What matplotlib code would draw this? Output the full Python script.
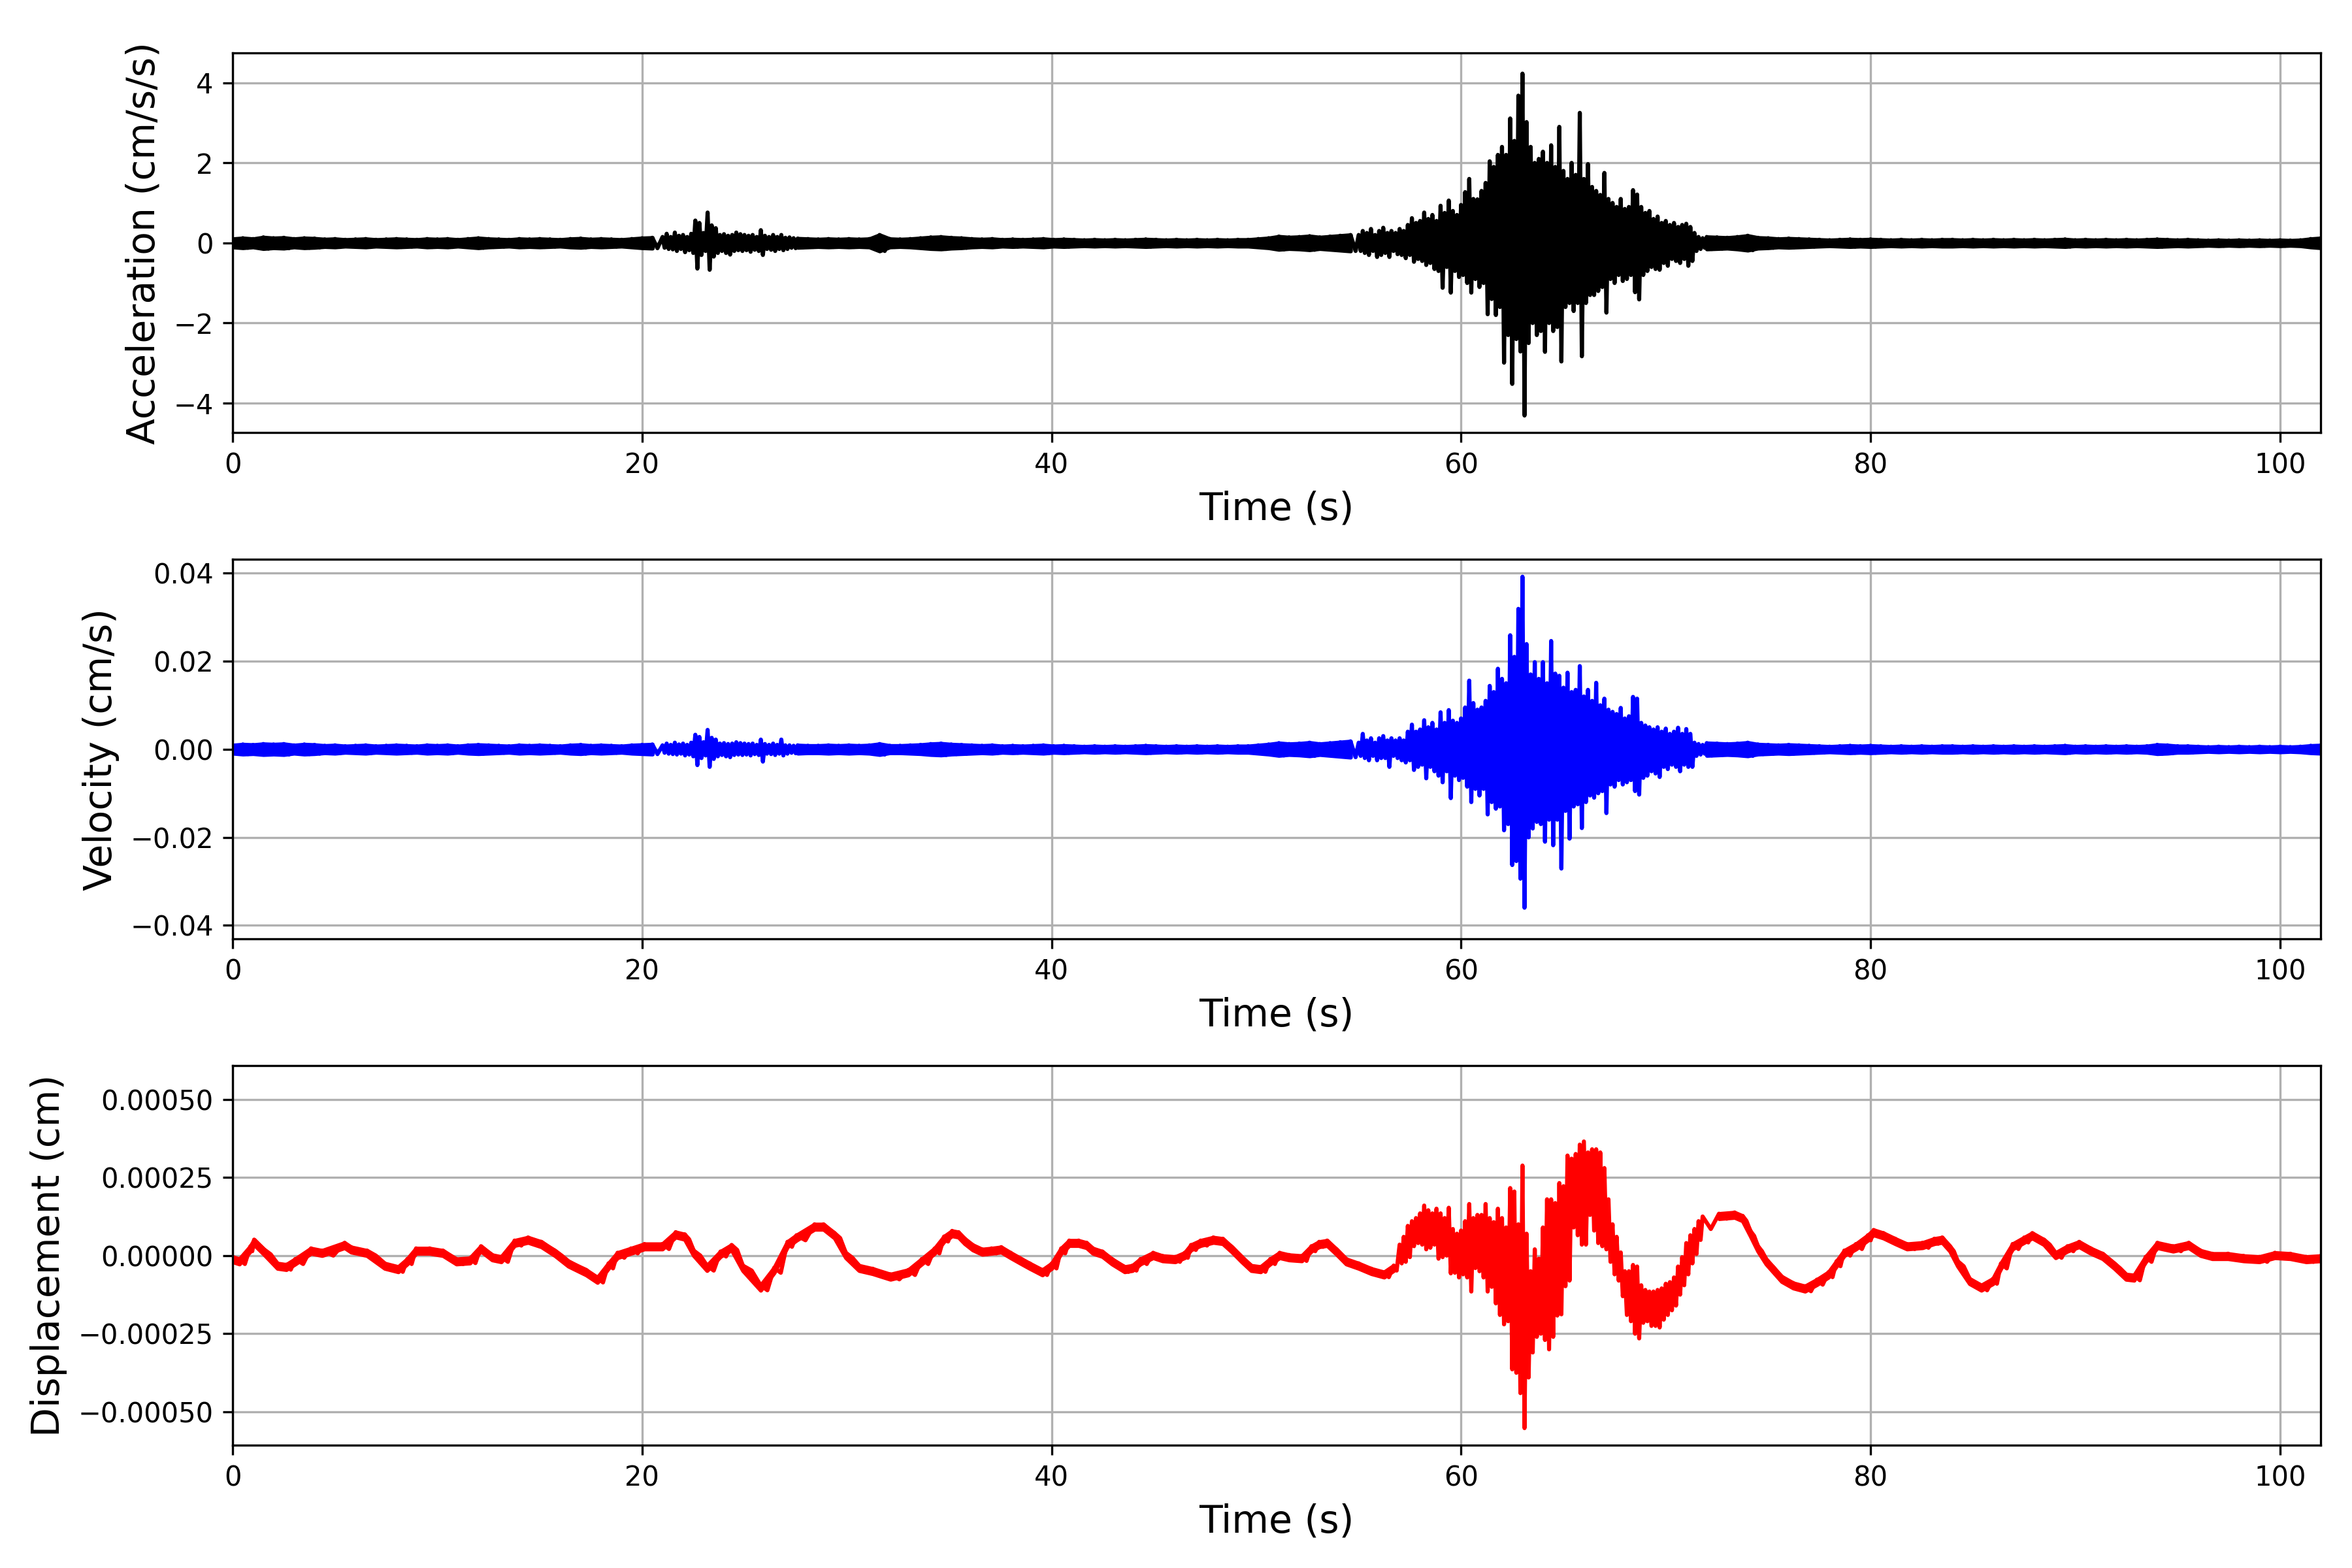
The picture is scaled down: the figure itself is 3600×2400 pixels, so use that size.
import numpy as np
import matplotlib
matplotlib.use("Agg")
import matplotlib.pyplot as plt

# ---------------- data ----------------
# Acceleration (cm/s/s): quiet segments are half-widths of the trace band,
# active segments are local positive / negative peaks per knot.
acc_q1_start, acc_q1_dt = 0.0, 0.5
acc_quiet1 = [0.1, 0.12, 0.1, 0.14, 0.12, 0.13, 0.1, 0.12, 0.11, 0.09,
              0.1, 0.08, 0.09, 0.1, 0.08, 0.09, 0.1, 0.09, 0.08, 0.1,
              0.09, 0.1, 0.08, 0.1, 0.12, 0.1, 0.09, 0.08, 0.1, 0.09,
              0.1, 0.09, 0.08, 0.1, 0.11, 0.09, 0.1, 0.09, 0.08, 0.1,
              0.12, 0.13]
acc_b_start, acc_b_dt = 21.0, 0.2
acc_burst_hi = [0.15, 0.23, 0.15, 0.26, 0.18, 0.2, 0.15, 0.23, 0.56, 0.5,
                0.25, 0.76, 0.44, 0.37, 0.2, 0.22, 0.18, 0.2, 0.26, 0.22,
                0.2, 0.18, 0.2, 0.15, 0.32, 0.18, 0.15, 0.2, 0.15, 0.2,
                0.13, 0.14, 0.12]
acc_burst_lo = [-0.12, -0.15, -0.16, -0.2, -0.15, -0.23, -0.18, -0.25, -0.64, -0.3,
                -0.2, -0.67, -0.34, -0.25, -0.2, -0.25, -0.29, -0.2, -0.18, -0.2,
                -0.18, -0.22, -0.17, -0.2, -0.3, -0.15, -0.17, -0.2, -0.15, -0.18,
                -0.15, -0.12, -0.13]
acc_q2_start, acc_q2_dt = 27.6, 0.5
acc_quiet2 = [0.11, 0.1, 0.09, 0.1, 0.09, 0.1, 0.09, 0.1, 0.2, 0.1,
              0.09, 0.1, 0.12, 0.14, 0.15, 0.13, 0.12, 0.1, 0.09, 0.1,
              0.08, 0.09, 0.08, 0.09, 0.1, 0.08, 0.09, 0.08, 0.07, 0.08,
              0.07, 0.08, 0.07, 0.08, 0.09, 0.08, 0.07, 0.08, 0.07, 0.08,
              0.07, 0.08, 0.07, 0.08, 0.08, 0.1, 0.12, 0.16, 0.14, 0.15,
              0.17, 0.14, 0.16, 0.18, 0.2]
acc_m_start, acc_m_dt = 55.0, 0.2
acc_main_hi = [0.2, 0.3, 0.25, 0.35, 0.2, 0.3, 0.38, 0.25, 0.3, 0.25,
               0.35, 0.3, 0.45, 0.62, 0.5, 0.55, 0.76, 0.6, 0.7, 0.55,
               0.93, 0.75, 1.06, 0.8, 0.7, 0.95, 1.27, 1.6, 1.1, 1.09,
               1.3, 1.5, 2.04, 1.9, 2.2, 2.4, 2.2, 3.11, 2.55, 3.68,
               4.23, 3.02, 2.4, 2.0, 2.1, 2.28, 2.0, 2.44, 1.9, 2.9,
               1.8, 1.6, 2.0, 1.7, 3.25, 1.6, 1.97, 1.4, 1.3, 1.2,
               1.75, 1.1, 1.0, 0.9, 1.1, 0.85, 0.9, 1.32, 1.21, 0.9,
               0.75, 0.8, 0.6, 0.66, 0.5, 0.55, 0.45, 0.5, 0.4, 0.45,
               0.48, 0.4, 0.25, 0.15, 0.12]
acc_main_lo = [-0.2, -0.25, -0.3, -0.2, -0.35, -0.3, -0.25, -0.35, -0.2, -0.28,
               -0.3, -0.38, -0.3, -0.47, -0.4, -0.45, -0.55, -0.5, -0.65, -0.7,
               -1.12, -0.6, -1.24, -0.7, -0.85, -0.8, -1.0, -1.24, -0.9, -1.1,
               -1.0, -1.78, -1.4, -1.8, -1.6, -2.99, -2.3, -3.52, -2.4, -2.71,
               -4.31, -2.5, -2.0, -2.3, -2.2, -2.72, -2.0, -2.2, -2.1, -2.96,
               -1.6, -1.5, -1.7, -1.5, -2.83, -1.5, -1.3, -1.3, -1.2, -1.1,
               -1.74, -0.9, -1.0, -0.8, -0.95, -0.9, -0.8, -1.23, -1.41, -0.8,
               -0.7, -0.6, -0.65, -0.67, -0.5, -0.57, -0.4, -0.45, -0.5, -0.4,
               -0.57, -0.45, -0.2, -0.15, -0.12]
acc_q3_start, acc_q3_dt = 72.0, 0.5
acc_quiet3 = [0.15, 0.14, 0.13, 0.15, 0.18, 0.13, 0.12, 0.1, 0.11, 0.1,
              0.09, 0.08, 0.07, 0.08, 0.09, 0.08, 0.09, 0.08, 0.07, 0.08,
              0.07, 0.08, 0.07, 0.08, 0.08, 0.07, 0.08, 0.07, 0.08, 0.07,
              0.08, 0.07, 0.08, 0.07, 0.08, 0.09, 0.07, 0.08, 0.07, 0.08,
              0.07, 0.08, 0.07, 0.08, 0.09, 0.08, 0.07, 0.08, 0.07, 0.06,
              0.07, 0.06, 0.07, 0.06, 0.07, 0.06, 0.07, 0.06, 0.07, 0.1,
              0.12]

# Velocity (cm/s)
vel_quiet1 = [0.0009, 0.0011, 0.001, 0.0012, 0.0011, 0.0012, 0.0009, 0.0011, 0.001, 0.0008,
              0.0009, 0.0007, 0.0008, 0.0009, 0.0007, 0.0008, 0.0009, 0.0008, 0.0007, 0.0009,
              0.0008, 0.0009, 0.0007, 0.0009, 0.001, 0.0009, 0.0008, 0.0007, 0.0009, 0.0008,
              0.0009, 0.0008, 0.0007, 0.0009, 0.001, 0.0008, 0.0009, 0.0008, 0.0007, 0.0009,
              0.001, 0.0011]
vel_burst_hi = [0.0009, 0.0013, 0.001, 0.0015, 0.0011, 0.0013, 0.001, 0.0015, 0.0033, 0.0028,
                0.0016, 0.0044, 0.0026, 0.0022, 0.0013, 0.0014, 0.0012, 0.0013, 0.0016, 0.0014,
                0.0013, 0.0012, 0.0013, 0.001, 0.0022, 0.0012, 0.001, 0.0013, 0.001, 0.0022,
                0.0009, 0.0009, 0.0008]
vel_burst_lo = [-0.0008, -0.001, -0.0011, -0.0012, -0.001, -0.0014, -0.0012, -0.0016, -0.0036, -0.002,
                -0.0014, -0.004, -0.0022, -0.0016, -0.0013, -0.0016, -0.0018, -0.0013, -0.0012, -0.0013,
                -0.0012, -0.0014, -0.0011, -0.0013, -0.0028, -0.001, -0.0011, -0.0013, -0.001, -0.0014,
                -0.001, -0.0008, -0.0009]
vel_quiet2 = [0.0009, 0.0008, 0.0008, 0.0009, 0.0008, 0.0009, 0.0008, 0.0009, 0.0012, 0.0008,
              0.0008, 0.0009, 0.001, 0.0012, 0.0013, 0.0011, 0.001, 0.0009, 0.0008, 0.0009,
              0.0007, 0.0008, 0.0007, 0.0008, 0.0009, 0.0007, 0.0008, 0.0007, 0.0006, 0.0007,
              0.0006, 0.0007, 0.0006, 0.0007, 0.0008, 0.0007, 0.0006, 0.0007, 0.0006, 0.0007,
              0.0006, 0.0007, 0.0006, 0.0007, 0.0007, 0.0009, 0.0011, 0.0014, 0.0012, 0.0013,
              0.0015, 0.0012, 0.0014, 0.0016, 0.0018]
vel_main_hi = [0.0015, 0.0035, 0.002, 0.0025, 0.0015, 0.0025, 0.003, 0.002, 0.0025, 0.002,
               0.0025, 0.002, 0.004, 0.0056, 0.004, 0.0045, 0.0066, 0.005, 0.006, 0.0045,
               0.0084, 0.006, 0.0089, 0.0065, 0.006, 0.007, 0.0095, 0.0156, 0.0105, 0.009,
               0.0095, 0.011, 0.0144, 0.013, 0.0183, 0.016, 0.015, 0.0259, 0.021, 0.0319,
               0.0392, 0.0239, 0.017, 0.0198, 0.016, 0.0198, 0.015, 0.0246, 0.0172, 0.0167,
               0.014, 0.0174, 0.013, 0.0135, 0.0189, 0.012, 0.0135, 0.011, 0.0151, 0.01,
               0.0115, 0.009, 0.0085, 0.008, 0.0094, 0.007, 0.0075, 0.0119, 0.0115, 0.006,
               0.0054, 0.005, 0.0045, 0.005, 0.004, 0.0047, 0.0035, 0.004, 0.0049, 0.0035,
               0.0046, 0.0035, 0.0015, 0.0012, 0.001]
vel_main_lo = [-0.0015, -0.002, -0.0025, -0.0015, -0.0025, -0.002, -0.002, -0.004, -0.0015, -0.002,
               -0.0025, -0.003, -0.0025, -0.0047, -0.004, -0.0035, -0.0066, -0.004, -0.005, -0.006,
               -0.0075, -0.005, -0.0111, -0.006, -0.007, -0.0065, -0.0085, -0.012, -0.009, -0.0105,
               -0.009, -0.0148, -0.012, -0.0135, -0.013, -0.0184, -0.017, -0.0263, -0.0254, -0.0294,
               -0.036, -0.02, -0.018, -0.0165, -0.017, -0.021, -0.016, -0.0218, -0.016, -0.0271,
               -0.014, -0.0203, -0.013, -0.0125, -0.0179, -0.012, -0.0105, -0.011, -0.01, -0.0095,
               -0.0145, -0.008, -0.0085, -0.007, -0.008, -0.0075, -0.007, -0.0095, -0.0103, -0.0065,
               -0.006, -0.005, -0.0055, -0.0063, -0.004, -0.0045, -0.0035, -0.004, -0.005, -0.0035,
               -0.004, -0.004, -0.0015, -0.0012, -0.001]
vel_quiet3 = [0.0014, 0.0013, 0.0012, 0.0013, 0.0015, 0.0011, 0.001, 0.0009, 0.001, 0.0009,
              0.0008, 0.0007, 0.0006, 0.0007, 0.0008, 0.0007, 0.0008, 0.0007, 0.0006, 0.0007,
              0.0006, 0.0007, 0.0006, 0.0007, 0.0007, 0.0006, 0.0007, 0.0006, 0.0007, 0.0006,
              0.0007, 0.0006, 0.0007, 0.0006, 0.0007, 0.0008, 0.0006, 0.0007, 0.0006, 0.0007,
              0.0006, 0.0007, 0.0006, 0.0007, 0.001, 0.0009, 0.0007, 0.0007, 0.0006, 0.0005,
              0.0006, 0.0005, 0.0006, 0.0005, 0.0006, 0.0005, 0.0006, 0.0005, 0.0006, 0.0008,
              0.0009]

# Displacement (cm): slow wave (centre line) with small jitter
disp_quiet_t = [0.0, 0.33, 0.87, 1.05, 1.53, 2.19, 2.62, 3.06, 3.83, 4.37,
                5.47, 5.79, 6.56, 7.43, 8.09, 8.53, 8.96, 9.62, 10.27, 10.93,
                11.59, 12.13, 12.68, 13.12, 13.77, 14.43, 15.08, 15.74, 16.4, 17.27,
                17.82, 18.36, 18.8, 19.46, 20.11, 20.99, 21.64, 22.08, 22.52, 23.17,
                23.83, 24.37, 24.92, 25.79, 26.45, 27.1, 27.54, 28.42, 28.86, 29.4,
                29.95, 30.6, 31.26, 32.13, 33.0, 33.66, 34.29, 34.75, 35.14, 35.45,
                35.76, 36.15, 36.61, 37.07, 37.54, 38.0, 38.46, 38.93, 39.55, 40.01,
                40.47, 40.86, 41.32, 41.71, 42.02, 42.48, 42.95, 43.57, 43.95, 44.34,
                44.96, 45.42, 46.04, 46.5, 46.81, 47.28, 47.9, 48.36, 48.82, 49.29,
                49.75, 50.21, 50.68, 51.14, 51.6, 52.22, 52.69, 53.07, 53.46, 53.92,
                54.39, 55.0, 55.62, 56.24, 56.71,
                72.6, 73.36, 73.75, 74.13, 74.5, 74.9, 75.28, 75.66, 76.23, 76.8,
                77.38, 77.95, 78.34, 78.72, 79.29, 79.87, 80.15, 80.63, 81.2, 81.78,
                82.54, 83.12, 83.5, 83.88, 84.26, 84.84, 85.41, 85.98, 86.37, 86.94,
                87.51, 87.9, 88.47, 89.04, 89.62, 90.19, 90.76, 91.34, 91.91, 92.48,
                92.87, 93.44, 94.01, 94.78, 95.54, 96.12, 96.69, 97.46, 98.22, 98.99,
                99.75, 100.5, 101.28, 101.99]
disp_quiet_mid = [-1.2e-5, -1.9e-5, 2.2e-5, 4.3e-5, 1.2e-5, -3.3e-5, -3.7e-5, -1.9e-5, 1.5e-5, 8e-6,
                  3.3e-5, 1.9e-5, 8e-6, -3.3e-5, -4.4e-5, -1.9e-5, 1.5e-5, 1.5e-5, 8e-6, -1.9e-5,
                  -1.6e-5, 2.2e-5, -6e-6, -1.2e-5, 4e-5, 5e-5, 3.6e-5, 8e-6, -2.6e-5, -5.4e-5,
                  -7.8e-5, -3.3e-5, 1e-6, 1.5e-5, 2.9e-5, 2.9e-5, 6.7e-5, 6e-5, 8e-6, -4e-5,
                  5e-6, 2.6e-5, -4e-5, -1.03e-4, -4.7e-5, 3.6e-5, 5.7e-5, 9.2e-5, 9.2e-5, 6.4e-5,
                  1e-6, -4e-5, -5e-5, -6.8e-5, -5.4e-5, -1.9e-5, 1.5e-5, 5.3e-5, 7.1e-5, 6.7e-5,
                  4.6e-5, 2.6e-5, 1.2e-5, 1.5e-5, 1.9e-5, 1e-6, -1.6e-5, -3.3e-5, -5.4e-5, -3.3e-5,
                  1.5e-5, 4e-5, 4e-5, 3.3e-5, 1.5e-5, 5e-6, -1.9e-5, -4.4e-5, -4e-5, -1.9e-5,
                  1e-6, -9e-6, -1.2e-5, 1e-6, 2.6e-5, 4e-5, 5e-5, 4.6e-5, 1.9e-5, -1.2e-5,
                  -4e-5, -4.4e-5, -1.9e-5, 1e-6, -6e-6, -9e-6, 2.2e-5, 3.6e-5, 4e-5, 1.2e-5,
                  -1.9e-5, -3.3e-5, -5e-5, -6.1e-5, -4e-5,
                  1.26e-4, 1.3e-4, 1.19e-4, 7.1e-5, 2.2e-5, -1.9e-5, -4.7e-5, -7.5e-5, -9.6e-5, -1.06e-4,
                  -8.5e-5, -6.1e-5, -2.6e-5, 8e-6, 2.9e-5, 5.7e-5, 7.4e-5, 6.4e-5, 4.6e-5, 2.9e-5,
                  3.3e-5, 4.6e-5, 5e-5, 2.2e-5, -2.6e-5, -8.2e-5, -1.03e-4, -8.2e-5, -3.3e-5, 2.9e-5,
                  5e-5, 6.4e-5, 4.3e-5, 1e-6, 2.2e-5, 3.6e-5, 1.5e-5, -2e-6, -3.3e-5, -6.8e-5,
                  -7.1e-5, -1.2e-5, 3.3e-5, 2.2e-5, 3.3e-5, 8e-6, -2e-6, -2e-6, -9e-6, -1.2e-5,
                  1e-6, -2e-6, -1.2e-5, -9e-6]
disp_quiet_jitter = 8.0e-6
disp_m_start, disp_m_dt = 57.0, 0.2
disp_main_mid = [5e-6, 2e-5, 4.5e-5, 7e-5, 8e-5, 8.5e-5, 9e-5, 8.5e-5, 8.5e-5, 7e-5,
                 6.5e-5, 6e-5, 4.8e-5, 1.5e-5, 0.0, 1e-5, 2e-5, 2.5e-5, 4e-5, 4e-5,
                 3e-5, 2.5e-5, 1e-5, -2.3e-5, -2e-5, -5e-5, -6e-5, -7.4e-5, -8.5e-5, -1.7e-4,
                 -1.32e-4, -1.6e-4, -1.8e-4, -1.2e-4, -1.3e-4, -9e-5, -6e-5, -4e-5, -1.2e-5, 2.2e-5,
                 6.2e-5, 1.2e-4, 2.0e-4, 1.95e-4, 1.95e-4, 2.0e-4, 2.3e-4, 2.1e-4, 1.9e-4, 1.8e-4,
                 1.5e-4, 8e-5, 2e-5, -1e-5, -6e-5, -1.2e-4, -1.3e-4, -1.4e-4, -1.5e-4, -1.55e-4,
                 -1.6e-4, -1.7e-4, -1.7e-4, -1.7e-4, -1.55e-4, -1.4e-4, -1.3e-4, -1.15e-4, -8e-5, -5e-5,
                 -1e-5, 2e-5, 4.5e-5, 8e-5, 1.05e-4]
disp_main_amp = [3e-5, 4e-5, 5e-5, 4e-5, 4e-5, 5e-5, 7e-5, 6e-5, 5e-5, 8e-5,
                 7e-5, 6e-5, 1.05e-4, 7e-5, 7e-5, 7e-5, 9e-5, 1.4e-4, 8e-5, 9e-5,
                 1e-4, 1.4e-4, 1.1e-4, 1.3e-4, 1.7e-4, 1.7e-4, 1.5e-4, 2.9e-4, 2.9e-4, 2.7e-4,
                 4.2e-4, 2.3e-4, 1.3e-4, 1.4e-4, 1.2e-4, 1.8e-4, 2.4e-4, 2.2e-4, 1.8e-4, 2.1e-4,
                 1.6e-4, 2e-4, 1.1e-4, 1.3e-4, 1.6e-4, 1.65e-4, 1e-4, 1.3e-4, 1.5e-4, 1.5e-4,
                 1.3e-4, 1e-4, 8e-5, 7e-5, 7e-5, 7e-5, 8e-5, 1.1e-4, 1.15e-4, 6e-5,
                 5e-5, 5.5e-5, 5.5e-5, 6e-5, 5e-5, 5e-5, 4.5e-5, 4.5e-5, 4.5e-5, 4.5e-5,
                 5e-5, 4.5e-5, 4e-5, 3e-5, 2e-5]

x_ticks = [0, 20, 40, 60, 80, 100]
disp_ticks = [-0.0005, -0.00025, 0.0, 0.00025, 0.0005]
t_end = 102.0


# ---------------- helpers ----------------
def zig(start, dt, hi, lo):
    n = min(len(hi), len(lo))
    t = start + dt * np.arange(n)
    tt = np.empty(2 * n)
    vv = np.empty(2 * n)
    tt[0::2] = t
    tt[1::2] = t + dt / 2
    vv[0::2] = np.asarray(hi[:n])
    vv[1::2] = np.asarray(lo[:n])
    return tt, vv


def sym(start, dt, amp):
    a = np.asarray(amp)
    return zig(start, dt, a, -a)


def join(parts):
    return (np.concatenate([p[0] for p in parts]),
            np.concatenate([p[1] for p in parts]))


def bands(segs):
    out = []
    for start, dt, amp in segs:
        a = np.asarray(amp)
        t = start + dt * np.arange(len(a))
        out.append((t, -a, a))
    return out


acc_t, acc_v = join([sym(acc_q1_start, acc_q1_dt, acc_quiet1),
                     zig(acc_b_start, acc_b_dt, acc_burst_hi, acc_burst_lo),
                     sym(acc_q2_start, acc_q2_dt, acc_quiet2),
                     zig(acc_m_start, acc_m_dt, acc_main_hi, acc_main_lo),
                     sym(acc_q3_start, acc_q3_dt, acc_quiet3)])
acc_bands = bands([(acc_q1_start, acc_q1_dt, acc_quiet1),
                   (acc_q2_start, acc_q2_dt, acc_quiet2),
                   (acc_q3_start, acc_q3_dt, acc_quiet3)])
vel_t, vel_v = join([sym(acc_q1_start, acc_q1_dt, vel_quiet1),
                     zig(acc_b_start, acc_b_dt, vel_burst_hi, vel_burst_lo),
                     sym(acc_q2_start, acc_q2_dt, vel_quiet2),
                     zig(acc_m_start, acc_m_dt, vel_main_hi, vel_main_lo),
                     sym(acc_q3_start, acc_q3_dt, vel_quiet3)])
vel_bands = bands([(acc_q1_start, acc_q1_dt, vel_quiet1),
                   (acc_q2_start, acc_q2_dt, vel_quiet2),
                   (acc_q3_start, acc_q3_dt, vel_quiet3)])

# displacement knots in time order
qt = np.asarray(disp_quiet_t)
qm = np.asarray(disp_quiet_mid)
mt = disp_m_start + disp_m_dt * np.arange(len(disp_main_mid))
pre = qt < disp_m_start
post = qt > mt[-1]
kt = np.concatenate([qt[pre], mt, qt[post]])
km = np.concatenate([qm[pre], disp_main_mid, qm[post]])
ka = np.concatenate([np.full(pre.sum(), disp_quiet_jitter),
                     disp_main_amp,
                     np.full(post.sum(), disp_quiet_jitter)])
knext = np.append(kt[1:], kt[-1])
disp_t = np.empty(2 * len(kt))
disp_v = np.empty(2 * len(kt))
disp_t[0::2] = kt
disp_t[1::2] = (kt + knext) / 2
disp_v[0::2] = km + ka
disp_v[1::2] = km - ka
disp_t = disp_t[:-1]
disp_v = disp_v[:-1]
disp_bands = [(qt[pre], qm[pre] - disp_quiet_jitter, qm[pre] + disp_quiet_jitter),
              (qt[post], qm[post] - disp_quiet_jitter, qm[post] + disp_quiet_jitter)]

# ---------------- figure ----------------
fig, axes = plt.subplots(3, 1, figsize=(12, 8), dpi=300)
fig.subplots_adjust(left=0.0989, right=0.9868, top=0.9661, bottom=0.0782,
                    hspace=0.3337)

series = [(acc_t, acc_v, acc_bands, "k", "Acceleration (cm/s/s)"),
          (vel_t, vel_v, vel_bands, "b", "Velocity (cm/s)"),
          (disp_t, disp_v, disp_bands, "r", "Displacement (cm)")]

for ax, (t, v, bl, c, lab) in zip(axes, series):
    for bt, blo, bhi in bl:
        ax.fill_between(bt, blo, bhi, color=c, edgecolor=c, linewidth=1.5,
                        zorder=2)
    ax.plot(t, v, color=c, linewidth=1.5, zorder=2)
    lim = 1.1 * np.max(np.abs(v))
    ax.set_ylim(-lim, lim)
    ax.set_xlim(0, t_end)
    ax.set_xticks(x_ticks)
    ax.grid(True)
    ax.set_xlabel("Time (s)", fontsize=14)
    ax.set_ylabel(lab, fontsize=14)

axes[2].set_yticks(disp_ticks)

fig.savefig("out.png", dpi=300)
